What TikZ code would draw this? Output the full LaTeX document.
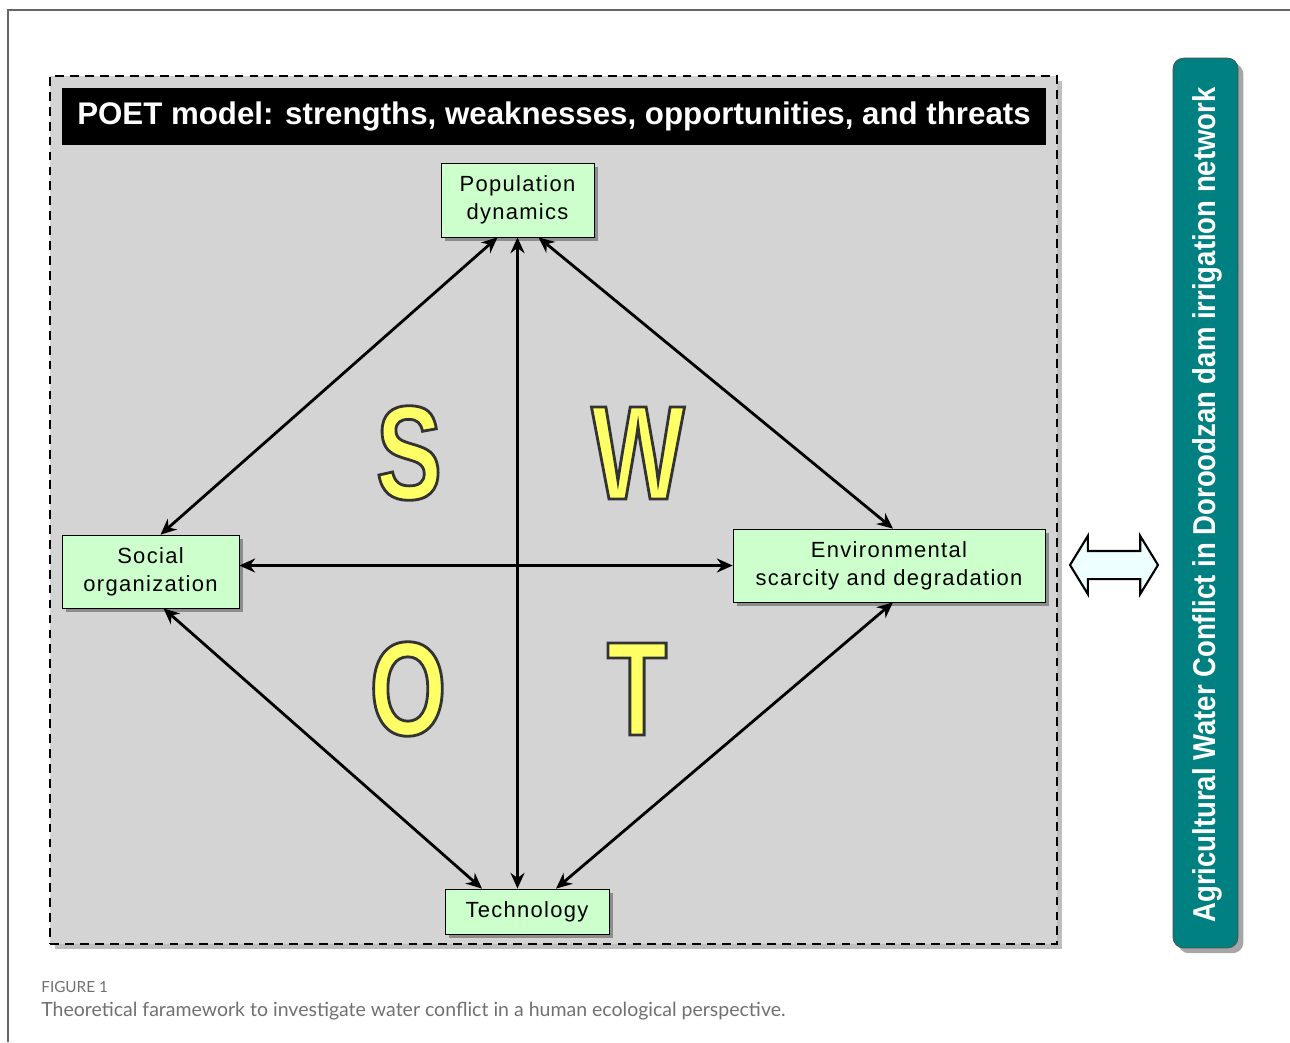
\documentclass[tikz,border=0pt]{standalone}
\usepackage{fontspec}
\setmainfont{Liberation Sans}
\newfontfamily\boxfont{Liberation Sans}[LetterSpace=6]
\newfontfamily\narrowfont{Liberation Sans}[FakeStretch=0.74]
\newfontfamily\goalfont{Liberation Sans}[FakeStretch=0.87]
\newfontfamily\capfont{Lato}
\usetikzlibrary{arrows.meta,shadows,shapes.arrows,positioning}

\definecolor{boxgreen}{HTML}{CCFFCC}
\definecolor{panelgray}{HTML}{D4D4D4}
\definecolor{letteryellow}{HTML}{FFFF66}
\definecolor{barteal}{HTML}{008080}
\definecolor{arrowcyan}{HTML}{EEFFFF}
\definecolor{capgray}{HTML}{707070}

% outlined letter: fill yellow, stroke dark
\newcommand{\outlined}[1]{\textcolor{letteryellow}{\special{pdf:literal direct 0.2 0.2 0.2 RG 1.6 w 2 Tr}#1\special{pdf:literal direct 0 Tr}}}

\tikzset{
  factor/.style={draw=black, fill=boxgreen, align=center, inner sep=0pt,
    font=\boxfont\fontsize{12.5}{16}\selectfont,
    drop shadow={shadow xshift=2pt, shadow yshift=-2pt, fill=black!45, opacity=1}},
  link/.style={line width=1.6pt, {Stealth[length=9pt,width=8pt]}-{Stealth[length=9pt,width=8pt]}},
  swot/.style={font=\narrowfont\bfseries\fontsize{76}{76}\selectfont, inner sep=0pt}
}

\begin{document}
\begin{tikzpicture}[x=0.02cm, y=-0.02cm]
\useasboundingbox (0,0) rectangle (1290,1042);

% figure frame
\draw[black!60, line width=0.8pt] (8,1042) -- (8,10) -- (1290,10);

% POET panel
\node[draw=black, fill=panelgray, line width=1.5pt, dash pattern=on 5pt off 3.5pt,
  minimum width=20.14cm, minimum height=17.36cm, inner sep=0pt,
  drop shadow={shadow xshift=3pt, shadow yshift=-3pt, fill=black!25, opacity=1}] (panel) at (553.5,510) {};
\node[fill=black, text=white, minimum width=19.68cm, minimum height=1.14cm, inner sep=0pt,
  font=\bfseries\fontsize{17.8}{20}\selectfont] (title) at (554,116.5)
  {POET model: strengths, weaknesses, opportunities, and threats};

% factors
\node[factor, minimum width=3.06cm, minimum height=1.48cm] (pop) at (517.5,200) {Population\\dynamics};
\node[factor, minimum width=3.54cm, minimum height=1.46cm] (soc) at (150.5,571.5) {Social\\organization};
\node[factor, minimum width=6.24cm, minimum height=1.46cm] (env) at (889,565.5) {Environmental\\scarcity and degradation};
\node[factor, minimum width=3.28cm, minimum height=0.9cm] (tech) at (527,911.5) {Technology};

% links
\draw[link] (pop.south) -- (pop.south |- tech.north);
\draw[link] (soc.east |- env.west) -- (env.west);
\draw[link] ([xshift=-0.4cm]pop.south) -- ([xshift=0.2cm]soc.north);
\draw[link] ([xshift=0.42cm]pop.south) -- ([xshift=0.08cm]env.north);
\draw[link] ([xshift=0.26cm]soc.south) -- ([xshift=-0.9cm]tech.north);
\draw[link] ([xshift=0.08cm]env.south) -- ([xshift=0.58cm]tech.north);

% SWOT letters
\node[swot] (s) at (409,453) {\outlined{S}};
\node[swot] (w) at (638,453) {\outlined{W}};
\node[swot] (o) at (408,689) {\outlined{O}};
\node[swot] (t) at (637,689) {\outlined{T}};

% case study
\node[double arrow, draw=black, fill=arrowcyan, line width=1.2pt, inner xsep=0pt, inner ysep=0.26cm,
  minimum height=1.76cm, double arrow head extend=0.3cm,
  double arrow tip angle=117] (both) at (1114,565) {};
\node[fill=barteal, draw=black!70, rounded corners=6pt, minimum width=1.3cm, minimum height=17.8cm,
  drop shadow={shadow xshift=3pt, shadow yshift=-3pt, fill=black!35, opacity=1}] (goal) at (1205.5,503) {};
\node[rotate=90, text=white, font=\goalfont\bfseries\fontsize{18}{20}\selectfont] (goaltext) at (1207,505)
  {Agricultural Water Conflict in Doroodzan dam irrigation network};

% caption
\node[anchor=base west, inner sep=0pt, text=capgray, font=\capfont\fontsize{8.7}{10}\selectfont] (figno) at (41,992) {FIGURE 1};
\node[anchor=base west, inner sep=0pt, text=capgray, font=\capfont\fontsize{11.1}{14}\selectfont] (caption) at (41,1016)
  {Theoretical faramework to investigate water conflict in a human ecological perspective.};
\end{tikzpicture}
\end{document}
